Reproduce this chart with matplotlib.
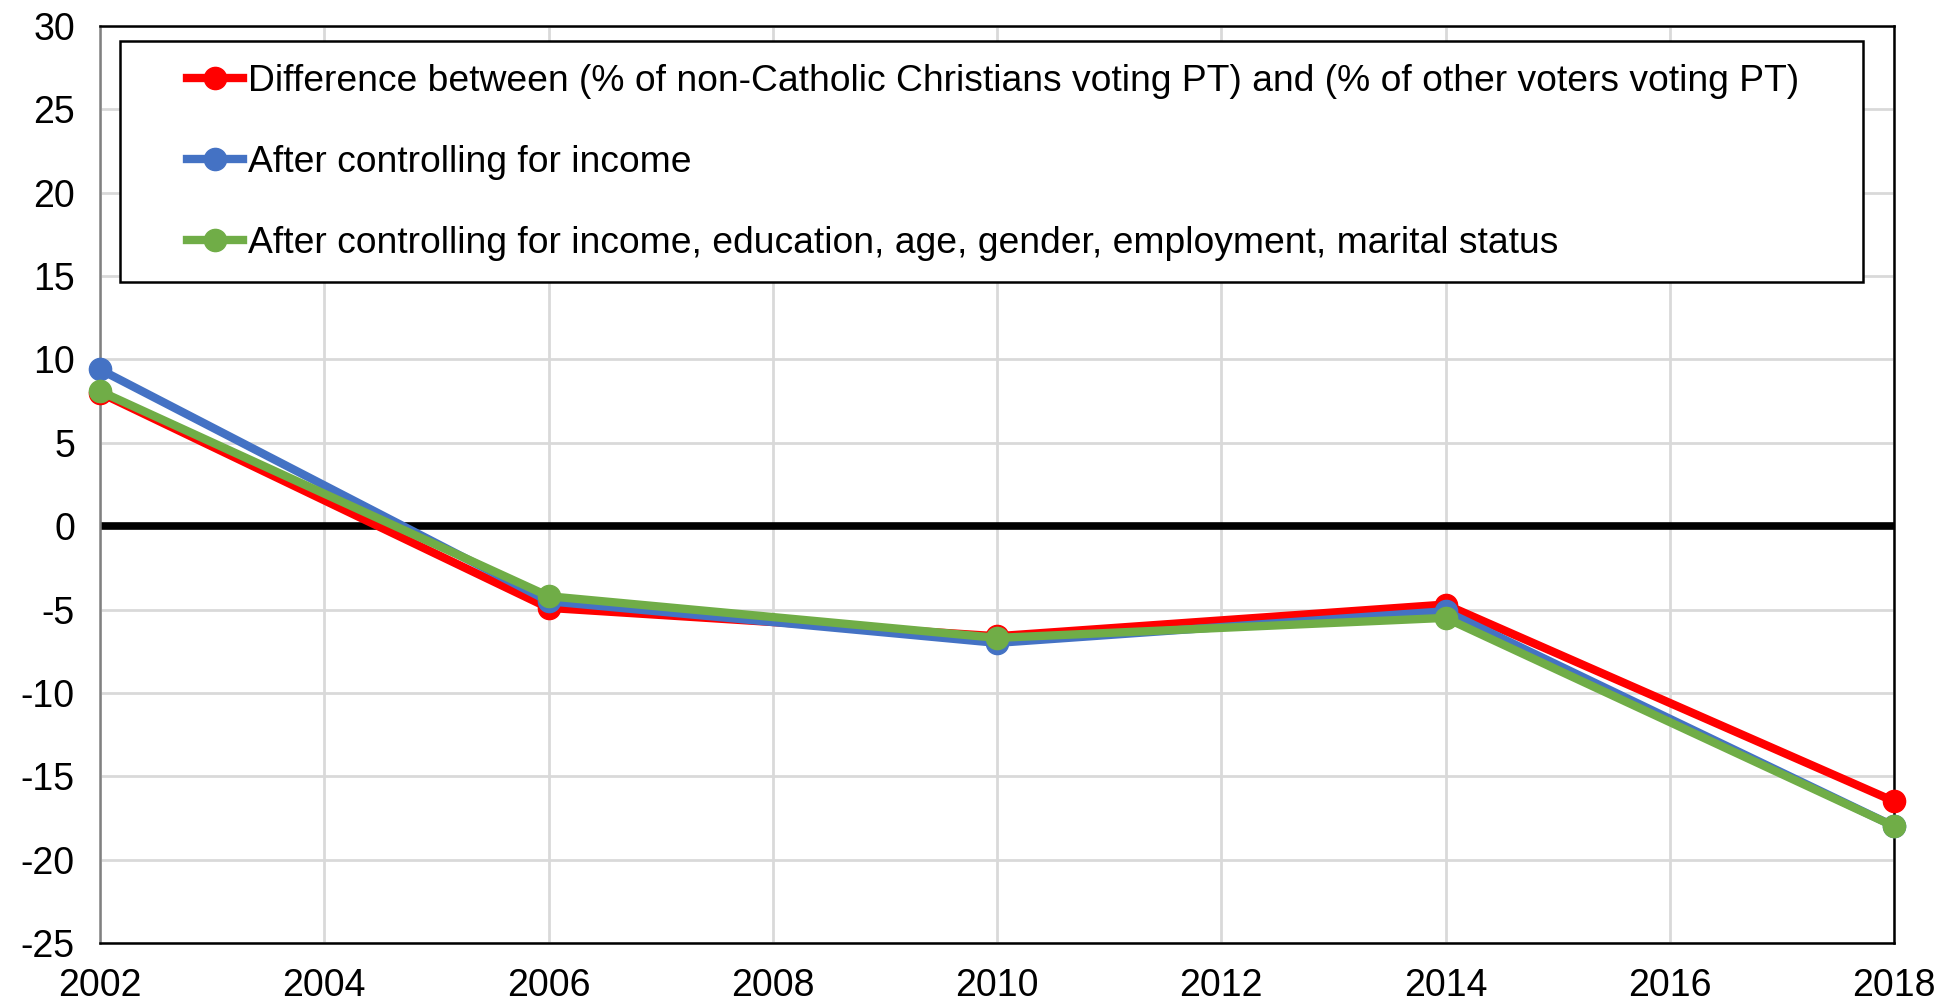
import matplotlib
matplotlib.use("Agg")
import matplotlib.pyplot as plt
import matplotlib.patches as patches

plt.rcParams['font.family'] = ['Liberation Sans', 'DejaVu Sans']
plt.rcParams['axes.unicode_minus'] = False

years = [2002, 2006, 2010, 2014, 2018]
raw_gap = [8.0, -4.9, -6.6, -4.7, -16.5]
income_ctrl = [9.4, -4.5, -7.0, -5.1, -18.0]
full_ctrl = [8.1, -4.2, -6.7, -5.5, -18.0]

labels = [
    "Difference between (% of non-Catholic Christians voting PT) and (% of other voters voting PT)",
    "After controlling for income",
    "After controlling for income, education, age, gender, employment, marital status",
]
colours = ["#FF0000", "#4472C4", "#70AD47"]

x_ticks = list(range(2002, 2019, 2))
y_ticks = list(range(-25, 31, 5))

W, H = 1958, 1005
fig = plt.figure(figsize=(W / 100, H / 100), dpi=100)
ax = fig.add_axes([100 / W, 1 - 943 / H, (1894 - 100) / W, (943 - 26) / H])

ax.set_xlim(2002, 2018)
ax.set_ylim(-25, 30)
ax.set_xticks(x_ticks)
ax.set_yticks(y_ticks)
ax.grid(True, color="#D9D9D9", linewidth=2.0)
ax.set_axisbelow(True)
ax.axhline(0, color="black", linewidth=5.5, zorder=2)

handles = []
for series, colour, label in zip([raw_gap, income_ctrl, full_ctrl], colours, labels):
    h, = ax.plot(years, series, color=colour, linewidth=6, marker="o",
                 markersize=16, label=label, zorder=3, clip_on=False)
    handles.append(h)

ax.tick_params(axis="both", length=0, labelsize=27, pad=18)
for side in ["top", "right", "bottom"]:
    ax.spines[side].set_color("black")
    ax.spines[side].set_linewidth(1.8)
ax.spines["left"].set_color("#808080")
ax.spines["left"].set_linewidth(1.8)

# legend box (Excel-style, sits inside the plot area)
frame = patches.Rectangle((120 / W, 1 - 282 / H), (1863 - 120) / W, (282 - 41) / H,
                          transform=fig.transFigure, fill=True, facecolor="white",
                          edgecolor="black", linewidth=1.8, zorder=4)
fig.patches.append(frame)
leg = fig.legend(handles=handles, loc="upper left", bbox_to_anchor=(187 / W, 1 - 64 / H),
                 frameon=False, fontsize=26.8, numpoints=1, handlelength=1.5,
                 handletextpad=0.15, labelspacing=1.24, borderpad=0, borderaxespad=0)
leg.set_zorder(5)

fig.savefig("out.png", dpi=100)
